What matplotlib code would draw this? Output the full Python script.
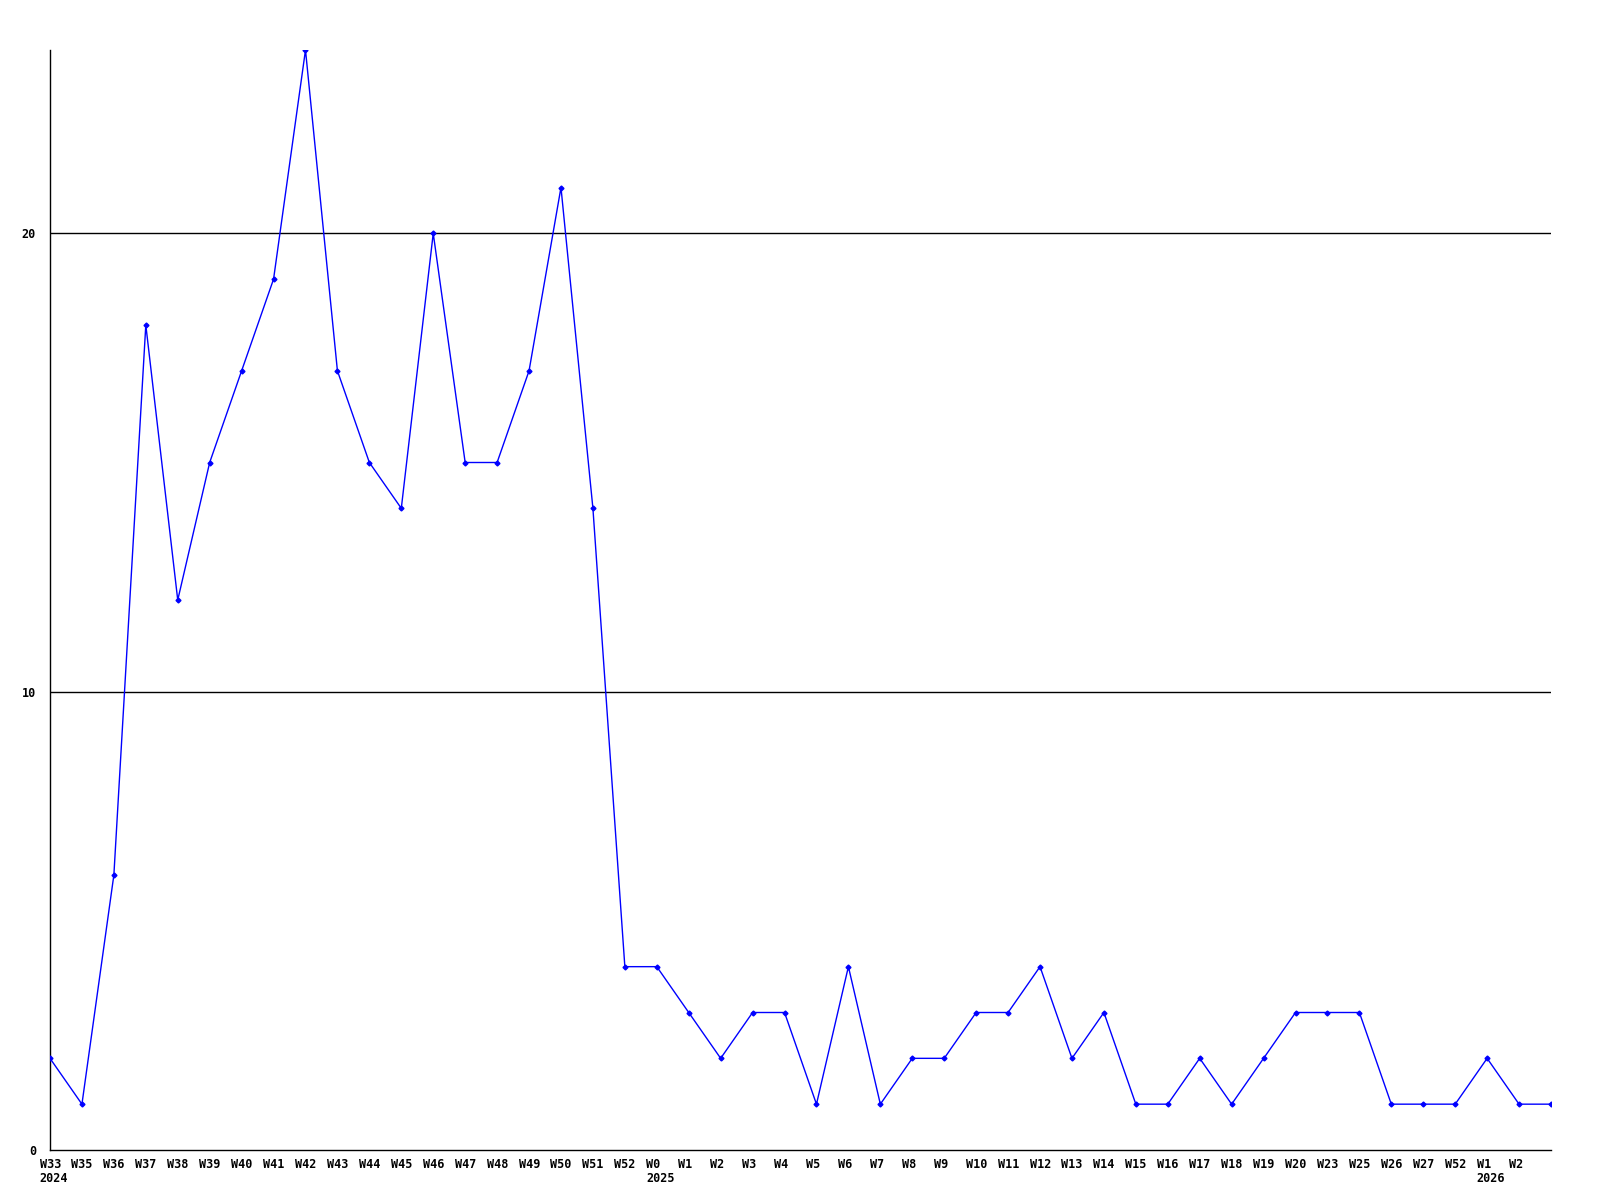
import matplotlib.pyplot as plt
from matplotlib.transforms import ScaledTranslation

weeks = ['W33', 'W35', 'W36', 'W37', 'W38', 'W39', 'W40', 'W41', 'W42', 'W43',
         'W44', 'W45', 'W46', 'W47', 'W48', 'W49', 'W50', 'W51', 'W52', 'W0',
         'W1', 'W2', 'W3', 'W4', 'W5', 'W6', 'W7', 'W8', 'W9', 'W10',
         'W11', 'W12', 'W13', 'W14', 'W15', 'W16', 'W17', 'W18', 'W19', 'W20',
         'W23', 'W25', 'W26', 'W27', 'W52', 'W1', 'W2', '']
counts = [2, 1, 6, 18, 12, 15, 17, 19, 24, 17,
          15, 14, 20, 15, 15, 17, 21, 14, 4, 4,
          3, 2, 3, 3, 1, 4, 1, 2, 2, 3,
          3, 4, 2, 3, 1, 1, 2, 1, 2, 3,
          3, 3, 1, 1, 1, 2, 1, 1]
years = {0: '2024', 19: '2025', 45: '2026'}


def main():
    fig = plt.figure(figsize=(16, 12), dpi=100)
    ax = fig.add_axes([50 / 1600, 50 / 1200, 1501 / 1600, 1100 / 1200])
    x = list(range(len(counts)))

    for y in (10, 20):
        ax.axhline(y, color='black', lw=1, zorder=1)
    ax.plot(x, counts, color='#0000ff', lw=1, marker='D', markersize=2.5, zorder=3)

    ax.set_xlim(0, len(counts) - 1)
    ax.set_ylim(0, 24)
    for s in ('top', 'right'):
        ax.spines[s].set_visible(False)
    for s in ('left', 'bottom'):
        ax.spines[s].set_linewidth(1)
        ax.spines[s].set_color('black')

    font = dict(family='DejaVu Sans Mono', fontweight='bold', fontsize=8.5)
    ax.set_yticks([0, 10, 20])
    ax.set_yticklabels(['0', '10', '20'], **font)
    ax.tick_params(axis='y', length=0, pad=10)
    ax.set_xticks(x)
    ax.set_xticklabels(weeks, ha='left', **font)
    ax.tick_params(axis='x', length=0, pad=6)
    shift = ScaledTranslation(-0.105, 0, fig.dpi_scale_trans)
    for lab in ax.get_xticklabels():
        lab.set_transform(lab.get_transform() + shift)

    # year under the week label, left edges lined up
    for i, yr in years.items():
        ax.annotate(yr, xy=(i, 0), xycoords='data', xytext=(-7.6, -16),
                    textcoords='offset points', ha='left', va='top', **font)

    fig.savefig('out.png')


if __name__ == '__main__':
    main()
